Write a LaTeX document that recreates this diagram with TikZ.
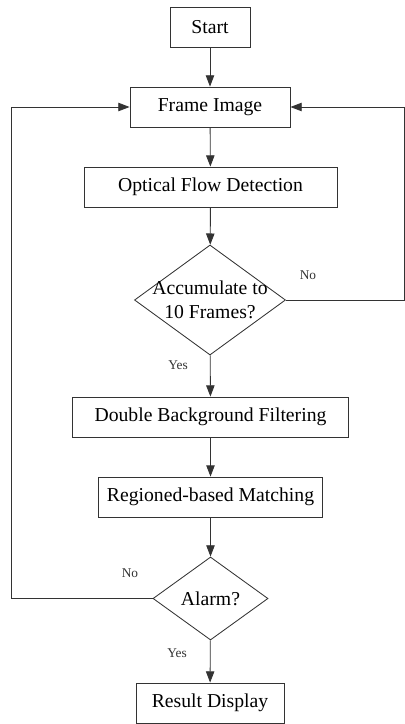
\documentclass[tikz,border=0pt]{standalone}
\usepackage{fontspec}
\setmainfont{Liberation Serif}
\usetikzlibrary{arrows.meta, shapes.geometric}

\begin{document}
\begin{tikzpicture}[x=0.025cm, y=-0.025cm, line width=0.6pt, font=\fontsize{14}{17}\selectfont]
    \tikzstyle{block}=[rectangle, draw=black!80, inner sep=0pt, minimum height=1cm]
    \tikzstyle{decision}=[diamond, draw=black!80, inner sep=0pt]
    \tikzstyle{arrow}=[draw=black!80, -{Triangle[length=8pt, width=6pt]}]
    \tikzstyle{annot}=[font=\fontsize{9.5}{11}\selectfont, text=black!80]

    \useasboundingbox (0,0) rectangle (404,724);

    \node [block, minimum width=2cm] (start) at (210,27) {Start};
    \node [block, minimum width=4cm] (frame) at (210,107) {Frame Image};
    \node [block, minimum width=6.325cm] (flow) at (210.5,187) {Optical Flow Detection};
    \node [decision, minimum width=3.775cm, minimum height=2.75cm,
        label={[align=center, name=accumtxt]center:{Accumulate to\\10 Frames?}}] (accum) at (210,300) {};
    \node [block, minimum width=6.9cm] (filter) at (210.5,417) {Double Background Filtering};
    \node [block, minimum width=5.6cm] (match) at (210.5,497) {Regioned-based Matching};
    \node [decision, minimum width=2.875cm, minimum height=2.075cm,
        label={[name=alarmtxt]center:Alarm?}] (alarm) at (210.5,598.5) {};
    \node [block, minimum width=3.7cm] (result) at (210,703) {Result Display};

    \coordinate (noright) at (404,300);
    \coordinate (noleft) at (11,598.5);

    \draw [arrow] (start) -- (frame);
    \draw [arrow] (frame) -- (flow);
    \draw [arrow] (flow) -- (accum);
    \draw [arrow] (accum) -- (filter);
    \draw [arrow] (filter) -- (match);
    \draw [arrow] (match) -- (alarm);
    \draw [arrow] (alarm) -- (result);
    \draw [arrow] (accum.east) -- (noright) |- (frame.east);
    \draw [arrow] (alarm.west) -- (noleft) |- (frame.west);

    \node [annot] (no1) at (308,275) {No};
    \node [annot] (yes1) at (178,365) {Yes};
    \node [annot] (no2) at (130,573) {No};
    \node [annot] (yes2) at (177,653) {Yes};
\end{tikzpicture}
\end{document}
